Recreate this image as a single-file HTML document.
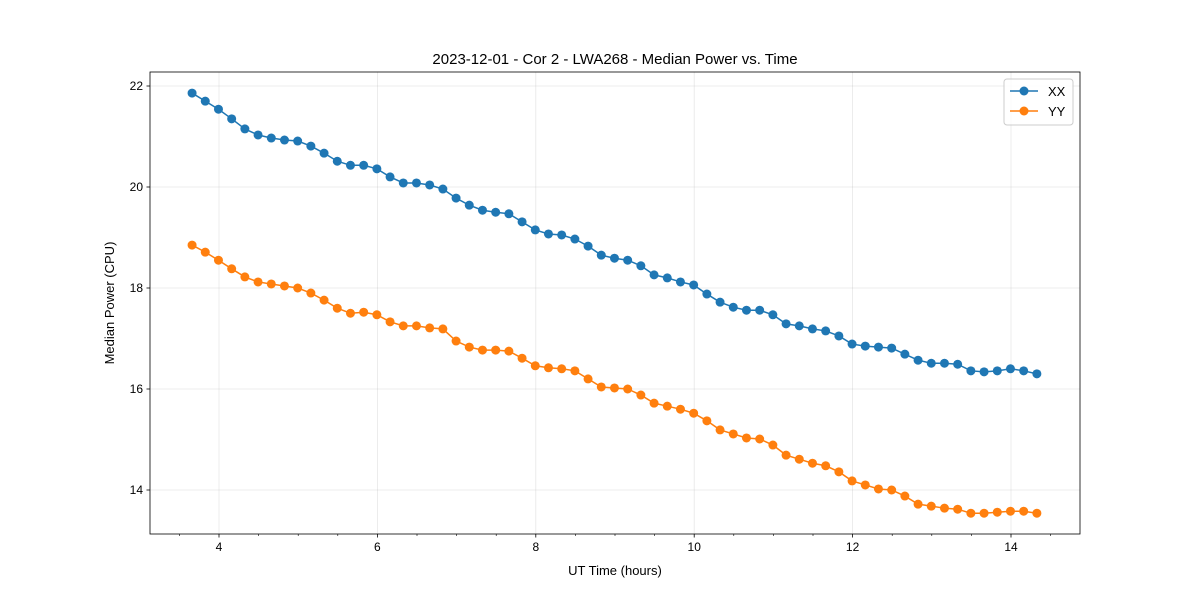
<!DOCTYPE html>
<html><head><meta charset="utf-8"><style>
body{margin:0;background:#fff;}
svg{display:block;font-family:"Liberation Sans",sans-serif;}
</style></head><body>
<svg id="chart" width="1200" height="600"></svg>
<script>
const xxValues=[21.86,21.70,21.54,21.35,21.15,21.03,20.97,20.93,20.91,20.81,20.67,20.51,20.43,20.43,20.36,20.20,20.08,20.08,20.04,19.96,19.78,19.64,19.54,19.50,19.47,19.31,19.15,19.07,19.05,18.97,18.83,18.65,18.59,18.55,18.44,18.26,18.20,18.12,18.06,17.88,17.72,17.62,17.56,17.56,17.47,17.29,17.25,17.19,17.15,17.05,16.89,16.85,16.83,16.81,16.69,16.57,16.51,16.51,16.49,16.36,16.34,16.36,16.40,16.36,16.30];
const yyValues=[18.85,18.71,18.55,18.38,18.22,18.12,18.08,18.04,18.00,17.90,17.76,17.60,17.50,17.52,17.47,17.33,17.25,17.25,17.21,17.19,16.95,16.83,16.77,16.77,16.75,16.61,16.46,16.42,16.40,16.36,16.20,16.04,16.02,16.00,15.88,15.72,15.66,15.60,15.52,15.37,15.19,15.11,15.03,15.01,14.89,14.69,14.61,14.53,14.48,14.36,14.18,14.10,14.02,14.00,13.88,13.72,13.68,13.64,13.62,13.54,13.54,13.56,13.58,13.58,13.54];
const startHour=3.66;
const stepHour=1/6;
const xTicks=[4,6,8,10,12,14];
const yTicks=[14,16,18,20,22];
const NS="http://www.w3.org/2000/svg";
const svg=document.getElementById('chart');
const L=150,R=1080,T=72,B=534;
const xs=h=>219+(h-4)*79.2;
const ys=v=>86+(22-v)*50.5;
function mk(tag,attrs,parent){const e=document.createElementNS(NS,tag);for(const k in attrs)e.setAttribute(k,attrs[k]);(parent||svg).appendChild(e);return e;}
// grid
xTicks.forEach(t=>{const g=mk('line',{x1:xs(t),x2:xs(t),y1:T,y2:B,stroke:'#b0b0b0','stroke-opacity':0.3,'stroke-width':0.8});

});
yTicks.forEach(t=>{const g=mk('line',{x1:L,x2:R,y1:ys(t),y2:ys(t),stroke:'#b0b0b0','stroke-opacity':0.3,'stroke-width':0.8});

});
// series
function series(vals,color,name){
  const pts=vals.map((v,i)=>[xs(startHour+i*stepHour),ys(v)]);
  const p=mk('polyline',{points:pts.map(p=>p.join(',')).join(' '),fill:'none',stroke:color,'stroke-width':1.5});
  
  
  pts.forEach(q=>{const c=mk('circle',{cx:q[0],cy:q[1],r:4.5,fill:color});
  
  });
}
series(xxValues,'#1f77b4','xx');
series(yyValues,'#ff7f0e','yy');
// frame
const f=mk('rect',{x:L,y:T,width:R-L,height:B-T,fill:'none',stroke:'#000','stroke-width':0.8});


// ticks
xTicks.forEach(t=>{mk('line',{x1:xs(t),x2:xs(t),y1:B,y2:B+3.5,stroke:'#000','stroke-width':0.8});
const tx=mk('text',{x:xs(t),y:B+17,'text-anchor':'middle','font-size':12});tx.textContent=t;

});
for(let h=3.5;h<=14.8;h+=0.5){if(Number.isInteger(h)&&h%2===0)continue;mk('line',{x1:xs(h),x2:xs(h),y1:B,y2:B+2,stroke:'#000','stroke-width':0.6});}
yTicks.forEach(t=>{mk('line',{x1:L-3.5,x2:L,y1:ys(t),y2:ys(t),stroke:'#000','stroke-width':0.8});
const tx=mk('text',{x:L-7,y:ys(t)+4,'text-anchor':'end','font-size':12});tx.textContent=t;

});
</script>
<svg width="1200" height="600" style="position:absolute;left:0;top:0">
<text x="615" y="64" text-anchor="middle" font-size="15" font-family="Liberation Sans">2023-12-01 - Cor 2 - LWA268 - Median Power vs. Time</text>
<text x="615" y="575" text-anchor="middle" font-size="13" font-family="Liberation Sans">UT Time (hours)</text>
<text x="114" y="303" text-anchor="middle" font-size="13" font-family="Liberation Sans" transform="rotate(-90 114 303)">Median Power (CPU)</text>
<g>
<rect x="1004" y="79" width="69" height="46" rx="3" fill="#fff" fill-opacity="0.8" stroke="#ccc"/>
<g><line x1="1010" x2="1038" y1="91" y2="91" stroke="#1f77b4" stroke-width="1.5"/><circle cx="1024" cy="91" r="4.5" fill="#1f77b4"/><text x="1048" y="96" font-size="13" font-family="Liberation Sans">XX</text></g>
<g><line x1="1010" x2="1038" y1="111" y2="111" stroke="#ff7f0e" stroke-width="1.5"/><circle cx="1024" cy="111" r="4.5" fill="#ff7f0e"/><text x="1048" y="116" font-size="13" font-family="Liberation Sans">YY</text></g>
</g>
</svg>
</body></html>
